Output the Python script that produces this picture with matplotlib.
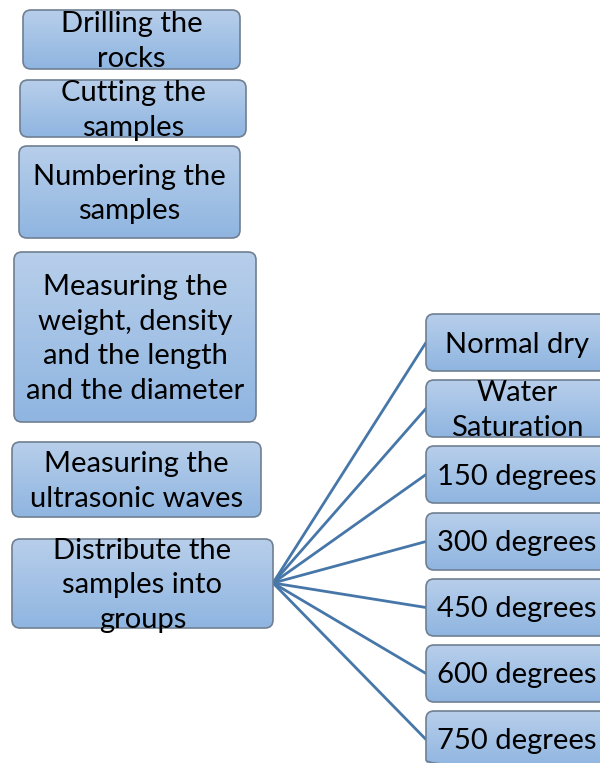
import matplotlib.pyplot as plt
import numpy as np
from matplotlib.patches import FancyBboxPatch

# Flowchart text
left_steps = ["Drilling the\nrocks", "Cutting the\nsamples", "Numbering the\nsamples",
              "Measuring the\nweight, density\nand the length\nand the diameter",
              "Measuring the\nultrasonic waves", "Distribute the\nsamples into\ngroups"]
groups = ["Normal dry", "Water\nSaturation", "150 degrees", "300 degrees",
          "450 degrees", "600 degrees", "750 degrees"]

# box geometry in pixels (x0, y0, x1, y1)
left_boxes = [(23, 10, 240, 69), (20, 80, 246, 137), (19, 146, 240, 238),
              (14, 252, 256, 422), (12, 442, 261, 517), (12, 539, 273, 628)]
right_tops = [314, 380, 446, 513, 579, 645, 711]
right_h = 57
right_x0, right_x1 = 426, 600

plt.rcParams['font.family'] = ['Lato', 'DejaVu Sans']
fig = plt.figure(figsize=(6, 7.63), dpi=100)
ax = fig.add_axes([0, 0, 1, 1])
ax.set_xlim(0, 600)
ax.set_ylim(763, 0)
ax.axis('off')

grad = np.linspace(0, 1, 256).reshape(-1, 1)
top = np.array([0.72, 0.81, 0.92])
bot = np.array([0.56, 0.71, 0.88])
img = top[None, None, :] * (1 - grad[:, :, None]) + bot[None, None, :] * grad[:, :, None]


def draw_box(x0, y0, x1, y1, label, z=2):
    patch = FancyBboxPatch((x0 + 8, y0 + 8), x1 - x0 - 16, y1 - y0 - 16,
                           boxstyle="round,pad=8", fc='none', ec='#6f7f92', lw=1.2, zorder=z + 1)
    ax.add_patch(patch)
    im = ax.imshow(img, extent=(x0, x1, y1, y0), aspect='auto', zorder=z)
    im.set_clip_path(patch)
    ax.text((x0 + x1) / 2, (y0 + y1) / 2 + 2, label, ha='center', va='center',
            fontsize=21, linespacing=1.42, color='black', zorder=z + 2)


for (x0, y0, x1, y1), lab in zip(left_boxes, left_steps):
    draw_box(x0, y0, x1, y1, lab)

hub = (273, 583)
for t, lab in zip(right_tops, groups):
    ax.plot([hub[0], right_x0], [hub[1], t + right_h / 2], color='#4677a8', lw=2, zorder=1,
            solid_capstyle='round')
    draw_box(right_x0, t, right_x1 + 8, t + right_h, lab)

fig.savefig("out.png", dpi=100)
